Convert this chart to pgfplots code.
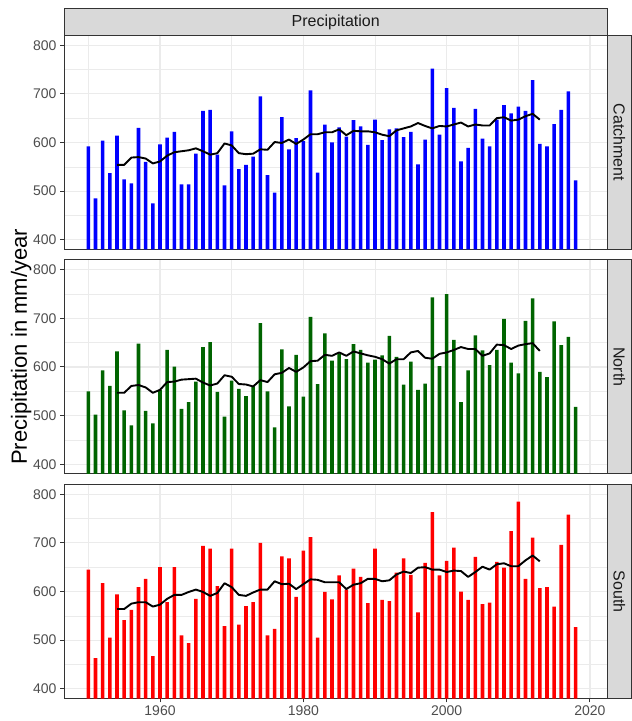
\documentclass[border=0pt]{standalone}
\usepackage{fontspec}
\setmainfont{Liberation Sans}
\usepackage{pgfplots}
\pgfplotsset{compat=1.18}
\definecolor{grid92}{HTML}{EBEBEB}
\definecolor{gray20}{HTML}{333333}
\definecolor{gray30}{HTML}{4D4D4D}
\definecolor{gray85}{HTML}{D9D9D9}
\definecolor{gray10}{HTML}{1A1A1A}
\definecolor{dgreen}{HTML}{006400}

\pgfplotstableread{
x y
1950 592
1951 485
1952 604
1953 537
1954 614
1955 524
1956 516
1957 630
1958 560
1959 475
1960 596
1961 610
1962 622
1963 514
1964 514
1965 577
1966 665
1967 667
1968 575
1969 512
1970 623
1971 545
1972 554
1973 571
1974 695
1975 533
1976 497
1977 652
1978 586
1979 609
1980 603
1981 707
1982 538
1983 637
1984 600
1985 631
1986 612
1987 646
1988 633
1989 595
1990 647
1991 605
1992 627
1993 629
1994 611
1995 622
1996 555
1997 606
1998 752
1999 616
2000 712
2001 671
2002 561
2003 589
2004 669
2005 608
2006 592
2007 647
2008 677
2009 660
2010 674
2011 665
2012 728
2013 597
2014 592
2015 638
2016 667
2017 705
2018 522
}\catchbars

\pgfplotstableread{
x y
1954 554
1955 554
1956 569
1957 570
1958 567
1959 557
1960 561
1961 573
1962 580
1963 582
1964 584
1965 588
1966 582
1967 575
1968 578
1969 598
1970 594
1971 578
1972 576
1973 577
1974 586
1975 585
1976 601
1977 599
1978 606
1979 597
1980 606
1981 617
1982 617
1983 621
1984 621
1985 627
1986 615
1987 624
1988 623
1989 623
1990 621
1991 616
1992 613
1993 625
1994 629
1995 633
1996 640
1997 634
1998 629
1999 634
2000 633
2001 637
2002 641
2003 633
2004 637
2005 635
2006 635
2007 650
2008 652
2009 645
2010 647
2011 654
2012 659
2013 647
}\catchline

\pgfplotstableread{
x y
1950 550
1951 502
1952 593
1953 561
1954 632
1955 511
1956 480
1957 648
1958 510
1959 484
1960 553
1961 635
1962 601
1963 514
1964 528
1965 570
1966 641
1967 651
1968 549
1969 498
1970 572
1971 555
1972 540
1973 560
1974 690
1975 550
1976 476
1977 636
1978 519
1979 625
1980 539
1981 703
1982 565
1983 669
1984 613
1985 628
1986 616
1987 647
1988 635
1989 609
1990 615
1991 624
1992 664
1993 621
1994 564
1995 611
1996 553
1997 566
1998 743
1999 602
2000 750
2001 656
2002 528
2003 593
2004 665
2005 634
2006 604
2007 635
2008 699
2009 609
2010 587
2011 695
2012 741
2013 590
2014 579
2015 694
2016 645
2017 662
2018 518
}\northbars

\pgfplotstableread{
x y
1954 547
1955 547
1956 561
1957 563
1958 558
1959 547
1960 553
1961 569
1962 570
1963 574
1964 575
1965 576
1966 568
1967 562
1968 566
1969 583
1970 580
1971 565
1972 564
1973 560
1974 573
1975 569
1976 585
1977 588
1978 598
1979 590
1980 599
1981 612
1982 613
1983 625
1984 623
1985 630
1986 623
1987 632
1988 628
1989 624
1990 621
1991 616
1992 607
1993 616
1994 616
1995 630
1996 633
1997 619
1998 617
1999 627
2000 630
2001 635
2002 641
2003 637
2004 637
2005 623
2006 628
2007 646
2008 645
2009 637
2010 644
2011 647
2012 649
2013 633
}\northline

\pgfplotstableread{
x y
1950 645
1951 463
1952 617
1953 505
1954 594
1955 541
1956 562
1957 609
1958 626
1959 467
1960 650
1961 578
1962 650
1963 510
1964 494
1965 585
1966 694
1967 688
1968 611
1969 529
1970 688
1971 532
1972 570
1973 578
1974 700
1975 510
1976 523
1977 672
1978 668
1979 589
1980 684
1981 712
1982 505
1983 599
1984 584
1985 633
1986 604
1987 647
1988 630
1989 576
1990 688
1991 583
1992 580
1993 639
1994 668
1995 634
1996 557
1997 659
1998 763
1999 633
2000 663
2001 690
2002 600
2003 583
2004 671
2005 574
2006 577
2007 661
2008 649
2009 724
2010 785
2011 626
2012 711
2013 607
2014 609
2015 569
2016 696
2017 758
2018 527
}\southbars

\pgfplotstableread{
x y
1954 564
1955 564
1956 575
1957 578
1958 578
1959 569
1960 573
1961 585
1962 593
1963 593
1964 599
1965 604
1966 599
1967 591
1968 597
1969 617
1970 609
1971 593
1972 591
1973 598
1974 604
1975 604
1976 621
1977 615
1978 616
1979 605
1980 615
1981 625
1982 624
1983 619
1984 619
1985 619
1986 605
1987 614
1988 617
1989 626
1990 626
1991 621
1992 623
1993 635
1994 641
1995 638
1996 649
1997 650
1998 645
1999 645
2000 640
2001 643
2002 642
2003 630
2004 640
2005 651
2006 645
2007 656
2008 658
2009 652
2010 652
2011 664
2012 674
2013 662
}\southline

\pgfplotsset{panel/.style={
  scale only axis, width=543.5pt, height=214pt,
  xmin=1946.6, xmax=2022.45, ymin=380, ymax=820,
  xtick={1960,1980,2000,2020}, minor xtick={1950,1970,1990,2010},
  ytick={400,500,600,700,800}, minor ytick={450,550,650,750},
  yticklabels={400,500,600,700,800},
  xticklabels={1960,1980,2000,2020},
  grid=both,
  major grid style={draw=grid92, line width=1.1pt},
  minor grid style={draw=grid92, line width=0.55pt},
  tick align=outside, tick pos=left,
  major tick length=4pt, minor tick length=0pt,
  tick style={draw=gray20, line width=1pt},
  axis line style={draw=gray20, line width=1pt},
  ticklabel style={font=\fontsize{14}{16}\selectfont, text=gray30},
  anchor=south west,
},
notx/.style={xticklabels={}, xtick style={draw=none}},
bars/.style={ybar, bar width=0.5, draw=none, fill=#1},
mline/.style={black, line width=1.9pt, line join=round}
}

\begin{document}
\begin{tikzpicture}
\useasboundingbox (0,0) rectangle (632pt,721pt);

\begin{axis}[panel, notx, name=p1, at={(64pt,471.5pt)}]
\addplot[bars=blue] table {\catchbars};
\addplot[mline] table {\catchline};
\end{axis}

\begin{axis}[panel, notx, name=p2, at={(64pt,247pt)}]
\addplot[bars=dgreen] table {\northbars};
\addplot[mline] table {\northline};
\end{axis}

\begin{axis}[panel, name=p3, at={(64pt,22.5pt)}]
\addplot[bars=red] table {\southbars};
\addplot[mline] table {\southline};
\end{axis}

\draw[fill=gray85, draw=gray20, line width=1pt] (p1.north west) rectangle ([yshift=27pt]p1.north east);
\node[text=gray10, font=\fontsize{16}{19}\selectfont] at ([yshift=13.5pt]p1.north) {Precipitation};

\foreach \p/\t in {p1/Catchment, p2/North, p3/South}{
  \draw[fill=gray85, draw=gray20, line width=1pt] (\p.south east) rectangle ([xshift=23.5pt]\p.north east);
  \node[rotate=-90, text=gray10, font=\fontsize{16}{19}\selectfont] at ([xshift=11.75pt]\p.east) {\t};
}

\node[rotate=90, anchor=base, font=\fontsize{22}{26}\selectfont] at (27pt,374pt) {Precipitation in mm/year};
\end{tikzpicture}
\end{document}
